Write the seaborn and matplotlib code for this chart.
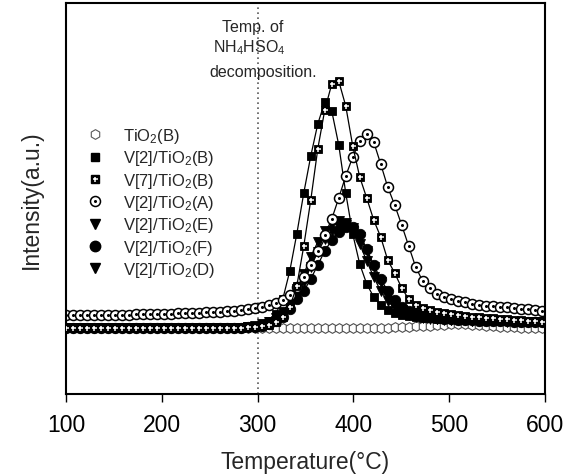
import matplotlib
matplotlib.use("Agg")
import matplotlib.pyplot as plt
import seaborn as sns
from matplotlib.lines import Line2D

# ---------------- data (heights in a.u.) ----------------
temperature = [100.0, 107.3, 114.6, 121.9, 129.2, 136.5, 143.8, 151.1, 158.4, 165.7,
               173.0, 180.3, 187.6, 194.9, 202.2, 209.5, 216.8, 224.1, 231.4, 238.7,
               246.0, 253.3, 260.6, 267.9, 275.2, 282.5, 289.8, 297.1, 304.4, 311.7,
               319.0, 326.3, 333.6, 340.9, 348.2, 355.5, 362.8, 370.1, 377.4, 384.7,
               392.0, 399.3, 406.6, 413.9, 421.2, 428.5, 435.8, 443.1, 450.4, 457.7,
               465.0, 472.3, 479.6, 486.9, 494.2, 501.5, 508.8, 516.1, 523.4, 530.7,
               538.0, 545.3, 552.6, 559.9, 567.2, 574.5, 581.8, 589.1, 596.4]

tio2_b = [66, 66, 66, 66, 66, 66, 66, 66, 66, 66,
          66, 66, 66, 66, 66, 66, 66, 66, 66, 66,
          66, 66, 66, 66, 66, 66, 66, 66, 66, 66,
          66, 66, 66, 66, 66, 66, 66, 66, 66, 66,
          66, 66, 66, 66, 66, 66, 66, 67, 67, 67,
          68, 68, 68, 69, 69, 70, 70, 70, 69, 69,
          68, 68, 67, 67, 67, 66, 66, 66, 66]

v2_tio2_b = [66, 66, 66, 66, 66, 66, 66, 66, 66, 66,
             66, 66, 66, 66, 66, 66, 66, 66, 66, 66,
             66, 66, 66, 66, 66, 66, 67, 68, 69, 73,
             80, 95, 123, 160, 201, 238, 270, 292, 283, 249,
             201, 160, 130, 110, 97, 89, 84, 81, 79, 78,
             77, 76, 76, 75, 75, 75, 74, 74, 74, 74,
             73, 73, 73, 73, 73, 72, 72, 72, 72]

v7_tio2_b = [66, 66, 66, 66, 66, 66, 66, 66, 66, 66,
             66, 66, 66, 66, 66, 66, 66, 66, 66, 66,
             66, 66, 66, 66, 66, 66, 67, 67, 68, 69,
             72, 77, 87, 108, 148, 194, 245, 284, 310, 313,
             288, 248, 217, 196, 174, 157, 134, 121, 106, 95,
             89, 86, 84, 82, 81, 80, 79, 78, 77, 77,
             76, 76, 75, 75, 74, 74, 73, 73, 72]

v2_tio2_a = [79, 79, 79, 79, 79, 79, 79, 79, 79, 79,
             80, 80, 80, 80, 80, 80, 81, 81, 81, 81,
             82, 82, 82, 83, 83, 84, 85, 86, 87, 89,
             91, 94, 99, 107, 117, 129, 143, 159, 175, 196,
             218, 237, 253, 260, 252, 230, 207, 189, 169, 148,
             127, 113, 106, 100, 97, 95, 93, 92, 90, 89,
             88, 88, 87, 87, 86, 85, 85, 84, 83]

v2_tio2_e = [66, 66, 66, 66, 66, 66, 66, 66, 66, 66,
             66, 66, 66, 66, 66, 66, 66, 66, 66, 66,
             66, 66, 66, 66, 66, 66, 67, 68, 70, 72,
             76, 82, 92, 105, 120, 137, 152, 163, 170, 173,
             171, 163, 150, 133, 117, 103, 93, 86, 82, 79,
             77, 76, 75, 75, 74, 74, 74, 74, 73, 73,
             73, 73, 73, 73, 72, 72, 72, 72, 72]

v2_tio2_f = [66, 66, 66, 66, 66, 66, 66, 66, 66, 66,
             66, 66, 66, 66, 66, 66, 66, 66, 66, 66,
             66, 66, 66, 66, 66, 66, 67, 67, 68, 70,
             73, 77, 85, 95, 103, 115, 129, 143, 154, 162,
             167, 167, 160, 145, 129, 115, 103, 94, 87, 83,
             80, 78, 77, 76, 75, 75, 74, 74, 74, 73,
             73, 73, 73, 73, 72, 72, 72, 72, 72]

v2_tio2_d = [66, 66, 66, 66, 66, 66, 66, 66, 66, 66,
             66, 66, 66, 66, 66, 66, 66, 66, 66, 66,
             66, 66, 66, 66, 66, 66, 67, 67, 68, 70,
             73, 78, 87, 99, 112, 127, 142, 155, 163, 167,
             169, 166, 157, 143, 127, 112, 99, 90, 84, 81,
             79, 77, 76, 75, 75, 74, 74, 74, 73, 73,
             73, 73, 73, 72, 72, 72, 72, 72, 72]

legend_labels = ["TiO$_2$(B)", "V[2]/TiO$_2$(B)", "V[7]/TiO$_2$(B)", "V[2]/TiO$_2$(A)",
                 "V[2]/TiO$_2$(E)", "V[2]/TiO$_2$(F)", "V[2]/TiO$_2$(D)"]
x_ticks = [100, 200, 300, 400, 500, 600]
decomp_temp = 300

# ---------------- style ----------------
sns.set_style("white")
plt.rcParams['font.family'] = ['Liberation Sans', 'DejaVu Sans']
plt.rcParams['mathtext.fontset'] = 'custom'
plt.rcParams['mathtext.rm'] = 'Liberation Sans'
plt.rcParams['mathtext.it'] = 'Liberation Sans:italic'
plt.rcParams['mathtext.bf'] = 'Liberation Sans:bold'

fig = plt.figure(figsize=(5.73, 4.77), dpi=100)
ax = fig.add_axes([66 / 573, 1 - 395 / 477, 479 / 573, 391 / 477])

LW = 0.9

def series(y, z, **kw):
    sns.lineplot(x=temperature, y=y, ax=ax, color="black", linewidth=LW,
                 zorder=z, legend=False, **kw)

def overlay(y, z, **kw):
    sns.lineplot(x=temperature, y=y, ax=ax, color="black", linestyle="none",
                 zorder=z, legend=False, **kw)

# TiO2(B) open hexagons
series(tio2_b, 2.0, marker="h", markersize=7, markerfacecolor="white",
       markeredgecolor="0.3", markeredgewidth=0.8)
# V[2]/TiO2(E) triangles
series(v2_tio2_e, 2.1, marker="v", markersize=7.5, markerfacecolor="black",
       markeredgecolor="black", markeredgewidth=0.6)
# V[2]/TiO2(F) filled circles
series(v2_tio2_f, 2.2, marker="o", markersize=7.5, markerfacecolor="black",
       markeredgecolor="black", markeredgewidth=0.6)
# V[2]/TiO2(D) triangles
series(v2_tio2_d, 2.3, marker="v", markersize=7.5, markerfacecolor="black",
       markeredgecolor="black", markeredgewidth=0.6)
# V[2]/TiO2(B) filled squares
series(v2_tio2_b, 2.4, marker="s", markersize=6.3, markerfacecolor="black",
       markeredgecolor="black", markeredgewidth=0.6)
# V[2]/TiO2(A) dotted circles
series(v2_tio2_a, 2.5, marker="o", markersize=7.2, markerfacecolor="white",
       markeredgecolor="black", markeredgewidth=1.1)
overlay(v2_tio2_a, 2.55, marker="o", markersize=2.2, markerfacecolor="black",
        markeredgecolor="black", markeredgewidth=0)
# V[7]/TiO2(B) squares with plus
series(v7_tio2_b, 2.6, marker="s", markersize=6.3, markerfacecolor="black",
       markeredgecolor="black", markeredgewidth=0.6)
overlay(v7_tio2_b, 2.65, marker="+", markersize=3.6, markerfacecolor="white",
        markeredgecolor="white", markeredgewidth=1.1)

# decomposition line
ax.axvline(decomp_temp, color="0.35", linestyle=(0, (1, 2)), linewidth=1.2, zorder=1)

trans = ax.get_xaxis_transform()
ax.text(326.5, 0.941, "Temp. of", transform=trans, ha="right", va="center", fontsize=11.5)
ax.text(329.6, 0.888, "NH$_4$HSO$_4$", transform=trans, ha="right", va="center", fontsize=11.5)
ax.text(362.0, 0.826, "decomposition.", transform=trans, ha="right", va="center", fontsize=11.5)

# legend
h_hex = Line2D([], [], ls="none", marker="h", ms=7, mfc="white", mec="0.35", mew=0.8)
h_sq = Line2D([], [], ls="none", marker="s", ms=6.3, mfc="black", mec="black")
h_sq7 = (Line2D([], [], ls="none", marker="s", ms=6.3, mfc="black", mec="black"),
         Line2D([], [], ls="none", marker="+", ms=3.6, mec="white", mew=1.1))
h_a = (Line2D([], [], ls="none", marker="o", ms=7.2, mfc="white", mec="black", mew=1.1),
       Line2D([], [], ls="none", marker="o", ms=2.2, mfc="black", mec="black", mew=0))
h_tri = Line2D([], [], ls="none", marker="v", ms=7.5, mfc="black", mec="black")
h_circ = Line2D([], [], ls="none", marker="o", ms=7.5, mfc="black", mec="black")
ax.legend([h_hex, h_sq, h_sq7, h_a, h_tri, h_circ, h_tri], legend_labels,
          loc="upper left", bbox_to_anchor=(0.043, 0.685), frameon=False,
          fontsize=12, handlelength=1.0, handletextpad=1.17, labelspacing=0.2,
          borderpad=0, borderaxespad=0)

# axes
ax.set_xlim(100, 600)
ax.set_ylim(0, 391)
ax.set_xticks(x_ticks)
ax.set_yticks([])
ax.tick_params(axis="x", bottom=True, direction="out", length=6, width=1,
               labelsize=16.5, pad=8, colors="black")
for s in ax.spines.values():
    s.set_visible(True)
    s.set_color("black")
    s.set_linewidth(1.5)
ax.set_xlabel("Temperature(°C)", fontsize=16.5, labelpad=10)
ax.set_ylabel("Intensity(a.u.)", fontsize=16.5, labelpad=17)

fig.savefig("out.png", dpi=100)
